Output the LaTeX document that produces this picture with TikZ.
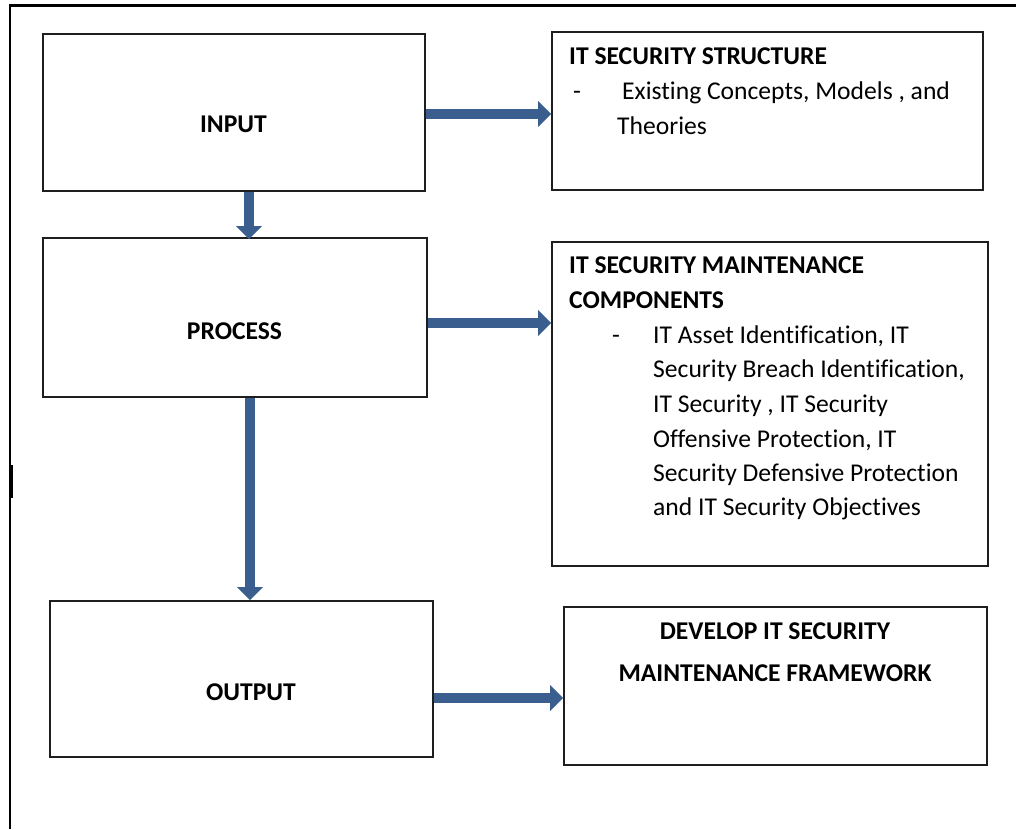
\documentclass[tikz,border=0pt]{standalone}
\usepackage{fontspec}
\setmainfont{Carlito}[Ligatures=NoCommon]
\usetikzlibrary{arrows.meta}
\definecolor{arrowblue}{RGB}{58,95,142}
\definecolor{boxline}{RGB}{30,30,30}
\begin{document}
\begin{tikzpicture}[x=1pt,y=-1pt,
  box/.style={draw=boxline, line width=1.6pt, inner sep=0pt, fill=white},
  flow/.style={draw=arrowblue, line width=10pt, -{Triangle[width=25pt,length=13pt]}},
  lbl/.style={font=\fontsize{25.6}{34.5}\selectfont, inner sep=0pt, anchor=base west},
  blbl/.style={font=\fontsize{25.6}{34.5}\selectfont\bfseries, inner sep=0pt, anchor=base west},
  clbl/.style={font=\fontsize{25.6}{34.5}\selectfont\bfseries, inner sep=0pt, anchor=base}]
\useasboundingbox (0,0) rectangle (1016,829);
\fill[white] (0,0) rectangle (1016,829);
% outer frame
\draw[line width=2.5pt, black] (10,829) -- (10,5.5) -- (1016,5.5);
\draw[line width=4pt, black] (11,465) -- (11,498);
% boxes
\node[box, minimum width=382pt, minimum height=157pt] (input) at (234,112.5) {};
\node[box, minimum width=384pt, minimum height=159pt] (process) at (235,317.5) {};
\node[box, minimum width=383pt, minimum height=156pt] (output) at (241.5,679) {};
\node[box, minimum width=431pt, minimum height=158pt] (struct) at (767.5,111) {};
\node[box, minimum width=436pt, minimum height=324pt] (comp) at (770,404) {};
\node[box, minimum width=423pt, minimum height=158pt] (frame) at (775.5,686) {};
% arrow levels
\coordinate (y1) at (0,114);
\coordinate (y2) at (0,323);
\coordinate (y3) at (0,698);
\coordinate (x1) at (249,0);
\coordinate (x2) at (250,0);
% arrows
\draw[flow] (input.east |- y1) -- (struct.west |- y1);
\draw[flow] (process.east |- y2) -- (comp.west |- y2);
\draw[flow] (output.east |- y3) -- (frame.west |- y3);
\draw[flow] (x1 |- input.south) -- ([yshift=-2pt]x1 |- process.north);
\draw[flow] (x2 |- process.south) -- (x2 |- output.north);
% left texts
\node[clbl] (tin) at (233.5,133) {INPUT};
\node[clbl] (tpr) at (234.5,339) {PROCESS};
\node[clbl] (tout) at (251,700) {OUTPUT};
% structure box
\node[blbl] (s1) at (569,65) {IT SECURITY STRUCTURE};
\node[lbl] (s2d) at (573,100) {-};
\node[lbl] (s2) at (622,100) {Existing Concepts, Models , and};
\node[lbl] (s3) at (617,135) {Theories};
% components box
\node[blbl] (c1) at (569,273) {IT SECURITY MAINTENANCE};
\node[blbl] (c2) at (569,308) {COMPONENTS};
\node[lbl] (c3d) at (612,343) {-};
\node[lbl] (c3) at (653,343) {IT Asset Identification, IT};
\node[lbl] (c4) at (653,377) {Security Breach Identification,};
\node[lbl] (c5) at (653,412) {IT Security , IT Security};
\node[lbl] (c6) at (653,447) {Offensive Protection, IT};
\node[lbl] (c7) at (653,481) {Security Defensive Protection};
\node[lbl] (c8) at (653,515) {and IT Security Objectives};
% framework box
\node[clbl] (f1) at (775,639) {DEVELOP IT SECURITY};
\node[clbl] (f2) at (775,681) {MAINTENANCE FRAMEWORK};
\end{tikzpicture}
\end{document}
